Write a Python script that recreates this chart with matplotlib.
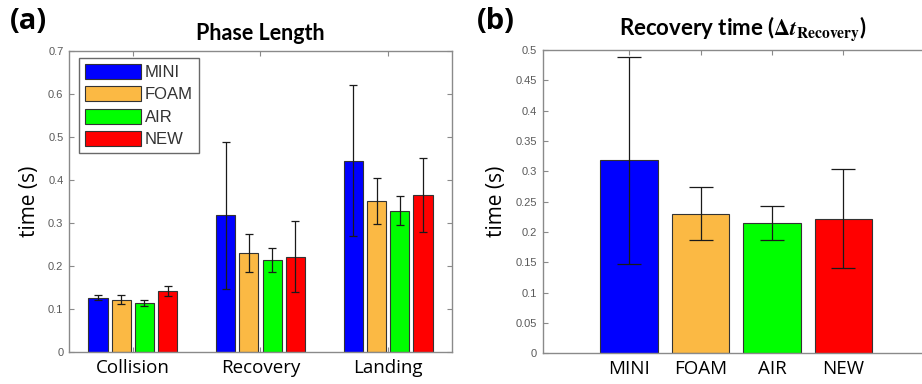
import numpy as np
import matplotlib
matplotlib.use("Agg")
import matplotlib.pyplot as plt

plt.rcParams['mathtext.fontset'] = 'stix'

# Data
PHASES = ["Collision", "Recovery", "Landing"]
SHOES = ["MINI", "FOAM", "AIR", "NEW"]
COLORS = ["#0000FF", "#FBB944", "#00FF00", "#FF0000"]

miniMean = [0.126, 0.318, 0.445]
miniErr = [0.006, 0.171, 0.176]
foamMean = [0.122, 0.230, 0.351]
foamErr = [0.010, 0.044, 0.053]
airMean = [0.114, 0.215, 0.329]
airErr = [0.006, 0.028, 0.033]
newMean = [0.142, 0.222, 0.365]
newErr = [0.012, 0.082, 0.087]

recoveryMean = [0.318, 0.230, 0.215, 0.222]
recoveryErr = [0.171, 0.044, 0.028, 0.082]

phaseTicks = [0, 0.1, 0.2, 0.3, 0.4, 0.5, 0.6, 0.7]
recoveryTicks = [0, 0.05, 0.1, 0.15, 0.2, 0.25, 0.3, 0.35, 0.4, 0.45, 0.5]

AXIS_GRAY = "#8a8a8a"
TICK_GRAY = "#5a5a5a"
EDGE = "#333333"


def styleAxis(ax, yticks, ylim):
    """Matlab-like box with inward ticks and gray axis lines."""
    ax.set_ylim(*ylim)
    ax.set_yticks(yticks)
    ax.set_yticklabels([f"{t:g}" for t in yticks], fontsize=8,
                       color=TICK_GRAY, family="Liberation Sans")
    ax.tick_params(direction="in", length=3.5, width=0.8, color=AXIS_GRAY,
                   top=True, pad=4)
    ax.tick_params(axis="x", labelsize=13.5, pad=5, labelcolor="black")
    for lbl in ax.get_xticklabels():
        lbl.set_family("Open Sans")
    for spine in ax.spines.values():
        spine.set_color(AXIS_GRAY)
        spine.set_linewidth(1.0)


fig = plt.figure(figsize=(9.22, 3.84), dpi=100, facecolor="white")

# (a) Phase length
axA = fig.add_axes([0.0748, 0.0833, 0.4154, 0.7839])
x = np.arange(1, len(PHASES) + 1)
means = [miniMean, foamMean, airMean, newMean]
errs = [miniErr, foamErr, airErr, newErr]
step = 0.182
for i, (m, e) in enumerate(zip(means, errs)):
    pos = x + (i - 1.5) * step
    axA.bar(pos, m, width=0.15, color=COLORS[i], edgecolor=EDGE,
            linewidth=0.8, label=SHOES[i], zorder=2)
    axA.errorbar(pos, m, yerr=e, fmt="none", ecolor="#1a1a1a",
                 elinewidth=0.9, capsize=2.8, capthick=0.9, zorder=3)
axA.set_xlim(0.5, 3.5)
axA.set_xticks(x)
axA.set_xticklabels(PHASES)
styleAxis(axA, phaseTicks, (0, 0.7))
axA.tick_params(right=True)
axA.set_ylabel("time (s)", fontsize=15, family="Open Sans", labelpad=6)
axA.set_title("Phase Length", fontsize=15.5, family="Lato", weight="bold", pad=8)
leg = axA.legend(loc="upper left", bbox_to_anchor=(0.026, 0.977),
                 borderaxespad=0, frameon=True, fancybox=False,
                 prop={"family": "Liberation Sans", "size": 12},
                 handlelength=3.4, handleheight=1.0, handletextpad=0.2,
                 labelspacing=0.38, borderpad=0.35)
leg.get_frame().set_edgecolor("#444444")
leg.get_frame().set_linewidth(1.0)
for t in leg.get_texts():
    t.set_color("#333333")
fig.text(0.011, 0.943, "(a)", fontsize=21, weight="bold", family="Open Sans",
         va="center", ha="left")

# (b) Recovery time
axB = fig.add_axes([0.5886, 0.0799, 0.4114, 0.7899])
xb = np.arange(1, len(SHOES) + 1)
axB.bar(xb, recoveryMean, width=0.8, color=COLORS, edgecolor=EDGE,
        linewidth=0.8, zorder=2)
axB.errorbar(xb, recoveryMean, yerr=recoveryErr, fmt="none", ecolor="#1a1a1a",
             elinewidth=0.9, capsize=8.4, capthick=0.9, zorder=3)
axB.set_xlim(-0.209, 5.10)
axB.set_xticks(xb)
axB.set_xticklabels(SHOES)
styleAxis(axB, recoveryTicks, (0, 0.5))
axB.spines["right"].set_visible(False)
axB.set_ylabel("time (s)", fontsize=15, family="Open Sans", labelpad=6)
fig.text(0.806, 0.925,
         r"Recovery time ($\mathbf{\Delta}\mathbfit{t}_{\mathbf{Recovery}}$)",
         fontsize=16, family="Lato", weight="bold", ha="center", va="center")
fig.text(0.517, 0.943, "(b)", fontsize=21, weight="bold", family="Open Sans",
         va="center", ha="left")

fig.savefig("out.png", dpi=100, facecolor="white")
